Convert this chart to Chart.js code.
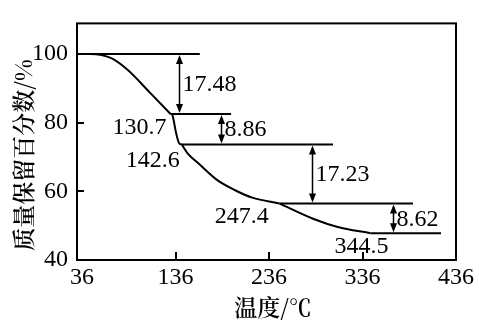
<!DOCTYPE html>
<html>
<head>
<meta charset="utf-8">
<script src="https://cdn.jsdelivr.net/npm/chart.js@4/dist/chart.umd.min.js"></script>
<style>
  html, body { margin: 0; padding: 0; background: #fff; }
</style>
</head>
<body>
<canvas id="tga" width="479" height="320"></canvas>
<script>
// Axis ticks
const xTicks = [36, 136, 236, 336, 436];
const yTicks = [40, 60, 80, 100];

// Decomposition steps: end temperature of each step (°C) and mass lost in it (%)
const stepTemps = [130.7, 142.6, 247.4, 344.5];
const stepLosses = [17.48, 8.86, 17.23, 8.62];

// TG curve, piece by piece: [temperature °C, mass retained %]
const curveStep1 = [[30.65, 100], [45, 100], [67.3, 98.78], [84.4, 95.46], [108.4, 88.81], [130.7, 82.52]];
const curveStep2 = [[130.7, 82.52], [132.2, 82.52], [133.8, 81.0], [136.3, 77.38], [138.8, 74.72], [140.3, 73.85], [142.6, 73.66]];
const curveStep3 = [[142.6, 73.66], [149.4, 70.9], [160.4, 68.15], [180.3, 63.32], [199.2, 60.39], [218.1, 58.15], [247.4, 56.43]];
const curveStep4 = [[247.4, 56.43], [283.8, 51.95], [309.5, 49.62], [344.5, 47.81]];

// Plateau guide lines: right end of each (°C); they start at the step temperatures
const plateauEnds = [162, 195.4, 304.5, 390, 420];
// Temperature where each mass-loss arrow stands
const arrowTemps = [140, 184.7, 282, 368.6];

const X_MIN = 30.65, X_MAX = 436, Y_MIN = 40, Y_MAX = 108.9;

// Plateau levels follow from the stated mass losses
const levels = [100];
stepLosses.forEach(d => levels.push(+(levels[levels.length - 1] - d).toFixed(2)));
const plateauStarts = [X_MIN, ...stepTemps];

const NUM_FONT = '24px "Liberation Serif", "Times New Roman", serif';
const CJK_FONT = '600 23px "Noto Serif CJK SC", "Noto Sans CJK SC", serif';

const toPts = arr => arr.map(([x, y]) => ({ x, y }));
const curveSet = arr => ({
  data: toPts(arr), borderColor: '#000', borderWidth: 2, pointRadius: 0,
  cubicInterpolationMode: 'monotone', fill: false
});
const plateauSet = i => ({
  data: [{ x: plateauStarts[i], y: levels[i] }, { x: plateauEnds[i], y: levels[i] }],
  borderColor: '#000', borderWidth: 2, pointRadius: 0, tension: 0, fill: false
});

function arrowHead(ctx, x, yTip, dir) {
  ctx.beginPath();
  ctx.moveTo(x, yTip);
  ctx.lineTo(x - 3.5, yTip + dir * 9);
  ctx.lineTo(x + 3.5, yTip + dir * 9);
  ctx.closePath();
  ctx.fill();
}

const annotations = {
  id: 'annotations',
  afterDraw(chart) {
    const { ctx, chartArea: a } = chart;
    const xs = chart.scales.x, ys = chart.scales.y;
    ctx.save();
    ctx.strokeStyle = '#000';
    ctx.fillStyle = '#000';

    // plot frame
    ctx.lineWidth = 2;
    ctx.strokeRect(a.left, a.top, a.right - a.left, a.bottom - a.top);

    // inner tick marks
    ctx.beginPath();
    xTicks.slice(1, -1).forEach(v => {
      const px = Math.round(xs.getPixelForValue(v));
      ctx.moveTo(px, a.bottom);
      ctx.lineTo(px, a.bottom - 8);
    });
    [60, 80].forEach(v => {
      const py = Math.round(ys.getPixelForValue(v));
      ctx.moveTo(a.left, py);
      ctx.lineTo(a.left + 7, py);
    });
    ctx.stroke();

    // mass-loss arrows with their values
    ctx.font = NUM_FONT;
    ctx.textBaseline = 'middle';
    arrowTemps.forEach((t, i) => {
      const px = Math.round(xs.getPixelForValue(t)) + 0.5;
      const y1 = ys.getPixelForValue(levels[i]);
      const y2 = ys.getPixelForValue(levels[i + 1]);
      ctx.lineWidth = 1.5;
      ctx.beginPath();
      ctx.moveTo(px, y1 + 4);
      ctx.lineTo(px, y2 - 4);
      ctx.stroke();
      arrowHead(ctx, px, y1 + 1, 1);
      arrowHead(ctx, px, y2 - 1, -1);
      ctx.textAlign = 'left';
      ctx.fillText(stepLosses[i].toFixed(2), px + 3, (y1 + y2) / 2 + 1);
    });

    // step temperatures beside the curve
    const offs = [[-4, 14], [-2, 16], [-11, 13], [18, 14]];
    stepTemps.forEach((t, i) => {
      const kx = xs.getPixelForValue(t);
      const ky = ys.getPixelForValue(levels[i + 1]);
      ctx.textAlign = 'right';
      ctx.fillText(t.toFixed(1), kx + offs[i][0], ky + offs[i][1]);
    });

    // axis titles
    ctx.font = CJK_FONT;
    ctx.textAlign = 'center';
    ctx.fillText('温度/℃', 273, 307);
    ctx.translate(23, 155);
    ctx.rotate(-Math.PI / 2);
    ctx.fillText('质量保留百分数/%', 0, 0);
    ctx.restore();
  }
};

new Chart(document.getElementById('tga'), {
  type: 'line',
  data: {
    datasets: [
      curveSet(curveStep1), curveSet(curveStep2), curveSet(curveStep3), curveSet(curveStep4),
      plateauSet(0), plateauSet(1), plateauSet(2), plateauSet(3), plateauSet(4)
    ]
  },
  options: {
    responsive: false,
    devicePixelRatio: 1,
    animation: false,
    layout: { padding: { top: 12, right: 23, left: 0, bottom: 0 } },
    plugins: { legend: { display: false }, tooltip: { enabled: false } },
    scales: {
      x: {
        type: 'linear', min: X_MIN, max: X_MAX,
        afterBuildTicks: s => { s.ticks = xTicks.map(v => ({ value: v })); },
        afterFit: s => { s.height = 60; },
        grid: { display: false, drawTicks: false },
        border: { display: false },
        ticks: { font: { family: '"Liberation Serif"', size: 24 }, color: '#000', padding: 3, maxRotation: 0, autoSkip: false }
      },
      y: {
        type: 'linear', min: Y_MIN, max: Y_MAX,
        afterBuildTicks: s => { s.ticks = yTicks.map(v => ({ value: v })); },
        afterFit: s => { s.width = 77; },
        grid: { display: false, drawTicks: false },
        border: { display: false },
        ticks: { font: { family: '"Liberation Serif"', size: 24 }, color: '#000', padding: 9 }
      }
    }
  },
  plugins: [annotations]
});
</script>
</body>
</html>
